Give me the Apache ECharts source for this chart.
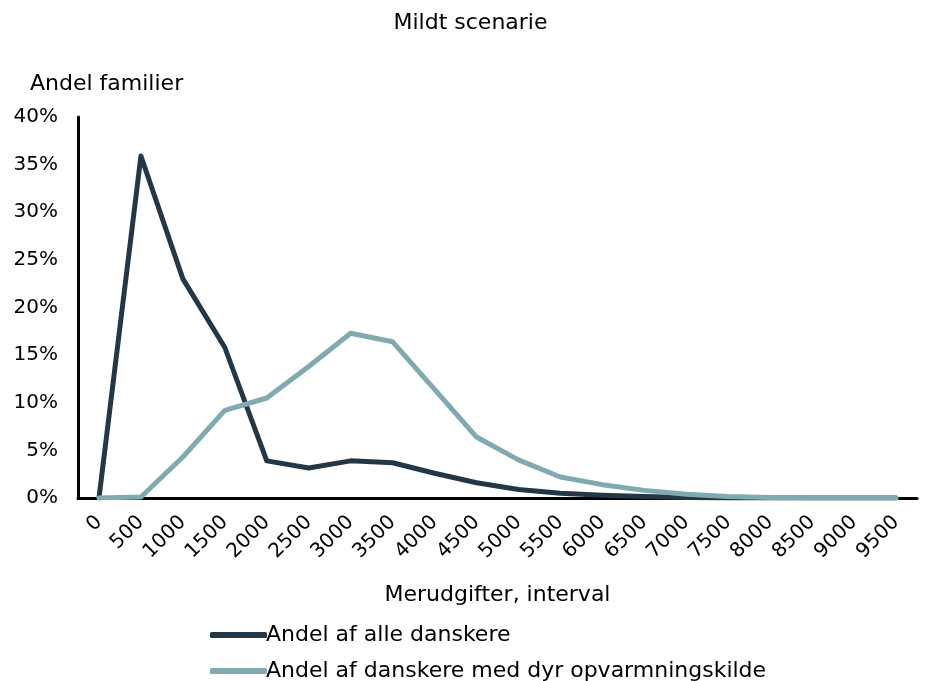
<!DOCTYPE html>
<html>
<head>
<meta charset="utf-8">
<script src="https://cdn.jsdelivr.net/npm/echarts@6/dist/echarts.min.js"></script>
<style>
  html, body { margin: 0; padding: 0; background: #fff; }
  #chart { width: 941px; height: 681px; }
</style>
</head>
<body>
<div id="chart"></div>
<script>
const categories = ['0', '500', '1000', '1500', '2000', '2500', '3000', '3500', '4000', '4500',
  '5000', '5500', '6000', '6500', '7000', '7500', '8000', '8500', '9000', '9500']

// andel i procent
const alleDanskere = [0, 35.9, 23.0, 15.8, 3.9, 3.15, 3.9, 3.7, 2.6, 1.6,
  0.9, 0.5, 0.3, 0.15, 0.05, 0, 0, 0, 0, 0]
const dyrOpvarmning = [0, 0.1, 4.3, 9.2, 10.5, 13.8, 17.3, 16.4, 11.4, 6.4,
  4.0, 2.2, 1.4, 0.8, 0.4, 0.15, 0.05, 0, 0, 0]

const font = '"DejaVu Sans", sans-serif'
const dark = '#243746'
const light = '#7eaab0'

const chart = echarts.init(document.getElementById('chart'), null, { renderer: 'canvas' })

chart.setOption({
  animation: false,
  textStyle: { fontFamily: font, color: '#000' },
  title: {
    text: 'Mildt scenarie',
    left: 'center',
    top: 7,
    textStyle: { fontFamily: font, fontSize: 22, fontWeight: 'normal', color: '#000' },
  },
  grid: { left: 78, right: 24, top: 117, bottom: 183, containLabel: false },
  legend: {
    orient: 'vertical',
    left: 205,
    top: 619,
    height: 90,
    icon: 'roundRect',
    itemWidth: 57,
    itemHeight: 6,
    itemGap: 14,
    textStyle: { fontFamily: font, fontSize: 22, color: '#000', padding: [0, 0, 0, -6] },
    data: ['Andel af alle danskere', 'Andel af danskere med dyr opvarmningskilde'],
  },
  xAxis: {
    type: 'category',
    data: categories,
    boundaryGap: true,
    name: 'Merudgifter, interval',
    nameLocation: 'middle',
    nameGap: 86,
    nameTextStyle: { fontFamily: font, fontSize: 22, color: '#000' },
    axisLine: { lineStyle: { color: '#000', width: 3 } },
    axisTick: { show: false },
    axisLabel: { rotate: 45, fontFamily: font, fontSize: 20, color: '#000', margin: 21, interval: 0 },
  },
  yAxis: {
    type: 'value',
    min: 0,
    max: 40,
    interval: 5,
    name: 'Andel familier',
    nameLocation: 'end',
    nameGap: 22,
    nameTextStyle: { fontFamily: font, fontSize: 22, color: '#000', align: 'left', padding: [0, 0, 0, -48] },
    axisLine: { show: true, lineStyle: { color: '#000', width: 3 } },
    axisTick: { show: false },
    splitLine: { show: false },
    axisLabel: { formatter: '{value}%', fontFamily: font, fontSize: 20, color: '#000', margin: 20 },
  },
  series: [
    {
      name: 'Andel af alle danskere',
      type: 'line',
      data: alleDanskere,
      symbol: 'none',
      color: dark,
      lineStyle: { width: 5, color: dark, join: 'round', cap: 'round' },
      z: 3,
    },
    {
      name: 'Andel af danskere med dyr opvarmningskilde',
      type: 'line',
      data: dyrOpvarmning,
      symbol: 'none',
      color: light,
      lineStyle: { width: 5, color: light, join: 'round', cap: 'round' },
      z: 4,
    },
  ],
})
</script>
</body>
</html>
